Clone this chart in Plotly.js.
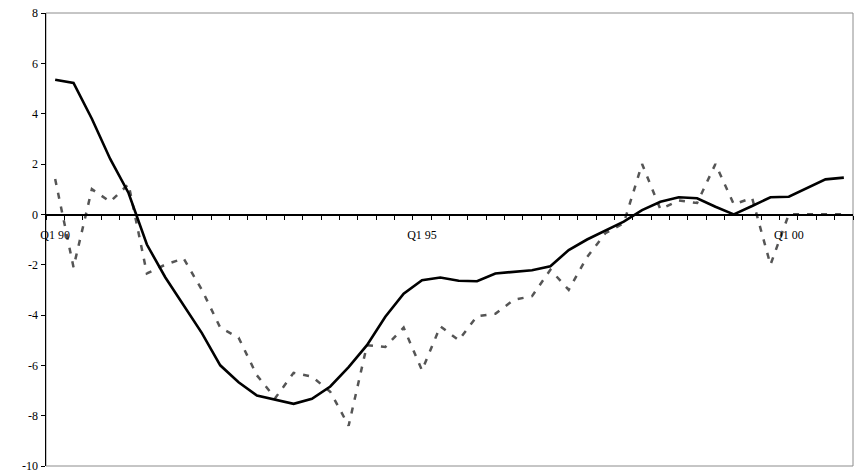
<!DOCTYPE html>
<html>
<head>
<meta charset="utf-8">
<script src="https://cdn.plot.ly/plotly-3.0.1.min.js"></script>
<style>
html,body{margin:0;padding:0;background:#fff;}
#chart{width:856px;height:473px;}
</style>
</head>
<body>
<div id="chart"></div>
<script>
var quarters = [
  "Q1 90","Q2 90","Q3 90","Q4 90","Q1 91","Q2 91","Q3 91","Q4 91",
  "Q1 92","Q2 92","Q3 92","Q4 92","Q1 93","Q2 93","Q3 93","Q4 93",
  "Q1 94","Q2 94","Q3 94","Q4 94","Q1 95","Q2 95","Q3 95","Q4 95",
  "Q1 96","Q2 96","Q3 96","Q4 96","Q1 97","Q2 97","Q3 97","Q4 97",
  "Q1 98","Q2 98","Q3 98","Q4 98","Q1 99","Q2 99","Q3 99","Q4 99",
  "Q1 00","Q2 00","Q3 00","Q4 00"
];
var solidSeries = [5.35, 5.22, 3.8, 2.2, 0.85, -1.2, -2.5, -3.6, -4.72, -6.0,
  -6.67, -7.2, -7.38, -7.53, -7.33, -6.84, -6.07, -5.2, -4.07, -3.15,
  -2.62, -2.51, -2.64, -2.66, -2.35, -2.29, -2.22, -2.06, -1.42, -1.0,
  -0.63, -0.29, 0.17, 0.5, 0.68, 0.64, 0.3, 0.0, 0.33, 0.68,
  0.7, 1.04, 1.39, 1.46];
var dashedSeries = [1.4, -2.1, 1.0, 0.5, 1.2, -2.35, -2.0, -1.75, -3.0, -4.5,
  -4.9, -6.4, -7.3, -6.3, -6.45, -7.05, -8.4, -5.2, -5.27, -4.5,
  -6.2, -4.45, -5.0, -4.05, -3.95, -3.4, -3.25, -2.2, -3.0, -1.7,
  -0.75, -0.35, 2.0, 0.2, 0.55, 0.45, 2.0, 0.4, 0.65, -2.0,
  0.0, 0.0, 0.0, 0.0];
var xLabelQuarters = ["Q1 90","Q1 95","Q1 00"];
var yTickVals = [-10,-8,-6,-4,-2,0,2,4,6,8];
var yTickText = ["-10","-8","-6","-4","-2","0","2","4","6","8"];

var idx = quarters.map(function(q,i){return i;});
var xTickVals = xLabelQuarters.map(function(q){return quarters.indexOf(q);});

var font = {family:"Liberation Serif, Times New Roman, serif", size:12, color:"#000"};

var traces = [
  {x: idx, y: dashedSeries, type:"scatter", mode:"lines",
   line:{color:"#555555", width:2.5, dash:"6px,8px"}, hoverinfo:"skip"},
  {x: idx, y: solidSeries, type:"scatter", mode:"lines",
   line:{color:"#000000", width:2.6}, hoverinfo:"skip"}
];

var layout = {
  width:856, height:473,
  margin:{l:46, r:3, t:13, b:7},
  paper_bgcolor:"#fff", plot_bgcolor:"#fff",
  showlegend:false,
  font: font,
  xaxis:{
    range:[-0.5, quarters.length-0.5],
    anchor:"free", position: 10/18, side:"bottom",
    showline:true, linecolor:"#000", linewidth:1.5,
    showgrid:false, zeroline:false,
    tickmode:"array", tickvals:xTickVals, ticktext:xLabelQuarters,
    ticks:"outside", ticklen:9, tickcolor:"rgba(0,0,0,0)",
    tickfont: font,
    minor:{tickmode:"linear", tick0:-0.5, dtick:1, ticks:"outside", ticklen:4, tickcolor:"#000", tickwidth:1, showgrid:false}
  },
  yaxis:{
    range:[-10, 8],
    tickmode:"array", tickvals:yTickVals, ticktext:yTickText,
    showline:true, linecolor:"#000", linewidth:1.5,
    ticks:"outside", ticklen:4, tickcolor:"#000",
    showgrid:false, zeroline:false,
    ticklabeloverflow:"allow",
    tickfont: font
  },
  shapes:[
    {type:"rect", xref:"paper", yref:"paper", x0:0, x1:1, y0:0, y1:1,
     line:{color:"#8c8c8c", width:1}, layer:"below"}
  ]
};

Plotly.newPlot("chart", traces, layout, {staticPlot:true, displayModeBar:false});
</script>
</body>
</html>
